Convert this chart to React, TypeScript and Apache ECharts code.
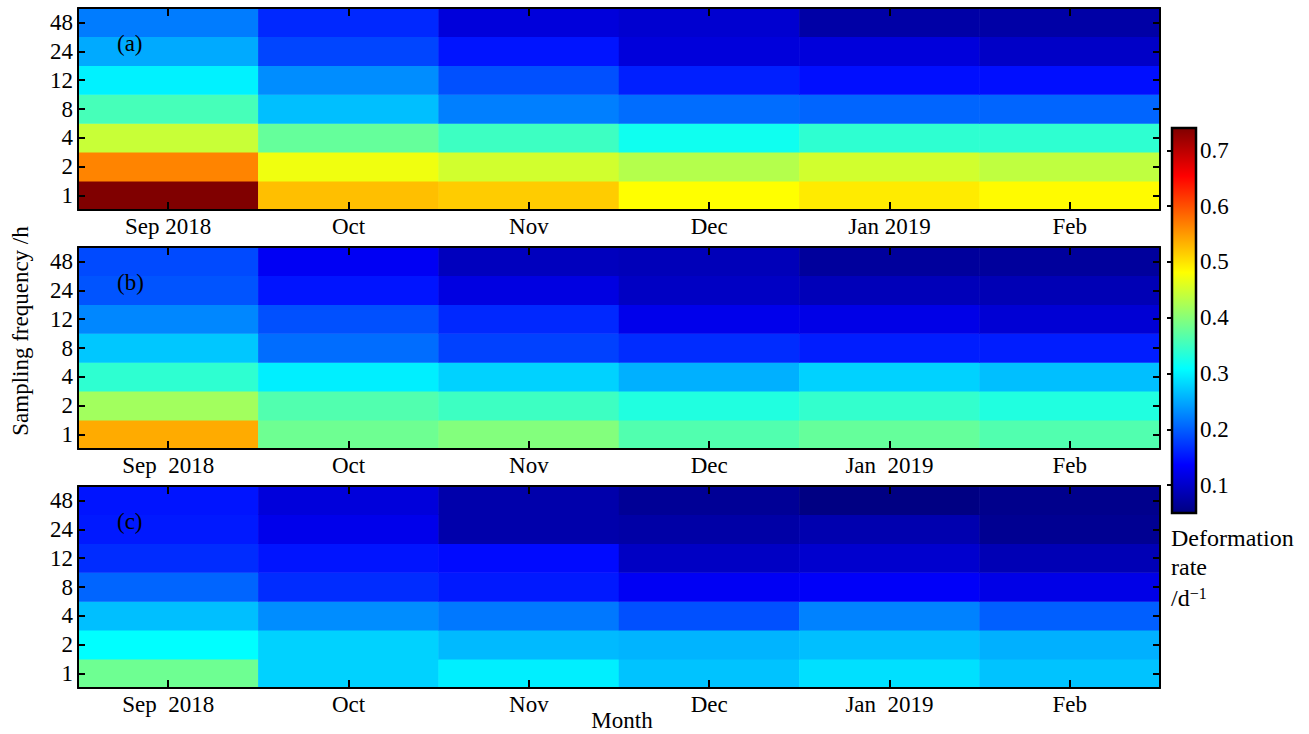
import React, { useEffect, useRef } from "react";
import * as echarts from "echarts";

const monthsA = ["Sep 2018", "Oct", "Nov", "Dec", "Jan 2019", "Feb"];
const monthsBC = ["Sep  2018", "Oct", "Nov", "Dec", "Jan  2019", "Feb"];
const freqs = ["1", "2", "4", "8", "12", "24", "48"];
const colorTicks = [0.1, 0.2, 0.3, 0.4, 0.5, 0.6, 0.7];
const rateMin = 0.05;
const rateMax = 0.74;

// rows: frequency 1,2,4,8,12,24,48 ; columns: Sep..Feb
const panelA = [
  [0.74, 0.525, 0.516, 0.481, 0.495, 0.484],
  [0.565, 0.471, 0.45, 0.43, 0.45, 0.438],
  [0.444, 0.377, 0.35, 0.319, 0.34, 0.34],
  [0.356, 0.265, 0.222, 0.21, 0.204, 0.204],
  [0.3, 0.231, 0.19, 0.157, 0.146, 0.146],
  [0.251, 0.183, 0.15, 0.112, 0.112, 0.098],
  [0.22, 0.163, 0.112, 0.104, 0.076, 0.076],
];
const panelB = [
  [0.538, 0.383, 0.397, 0.363, 0.377, 0.363],
  [0.418, 0.363, 0.35, 0.33, 0.343, 0.33],
  [0.34, 0.298, 0.278, 0.255, 0.278, 0.265],
  [0.271, 0.21, 0.18, 0.166, 0.156, 0.156],
  [0.227, 0.19, 0.163, 0.123, 0.12, 0.107],
  [0.193, 0.15, 0.116, 0.096, 0.089, 0.086],
  [0.186, 0.129, 0.092, 0.089, 0.069, 0.069],
];
const panelC = [
  [0.383, 0.278, 0.298, 0.268, 0.288, 0.268],
  [0.309, 0.278, 0.262, 0.258, 0.265, 0.255],
  [0.265, 0.231, 0.217, 0.19, 0.224, 0.2],
  [0.204, 0.166, 0.153, 0.129, 0.132, 0.12],
  [0.166, 0.15, 0.143, 0.096, 0.103, 0.086],
  [0.153, 0.123, 0.079, 0.076, 0.082, 0.062],
  [0.15, 0.112, 0.079, 0.065, 0.052, 0.058],
];
const panelLabels = ["(a)", "(b)", "(c)"];

const jet = [
  "#000080",
  "#0000ff",
  "#0080ff",
  "#00ffff",
  "#80ff80",
  "#ffff00",
  "#ff8000",
  "#ff0000",
  "#800000",
];

const FONT = "'Liberation Serif', 'Times New Roman', serif";
const FS = 23;

function toCells(rows: number[][]) {
  const out: number[][] = [];
  rows.forEach((row, yi) => row.forEach((v, xi) => out.push([xi, yi, v])));
  return out;
}

export default function App() {
  const ref = useRef<HTMLDivElement>(null);
  useEffect(() => {
    if (!ref.current) return;
    const chart = echarts.init(ref.current, undefined, { renderer: "svg" });
    const panels = [panelA, panelB, panelC];
    const tops = [8, 247, 486];
    const gridH = 202;
    const grids: any[] = tops.map((t) => ({ left: 78, top: t, width: 1082, height: gridH }));
    grids.push({ left: 1172, top: 128, width: 24, height: 385 });

    const lineStyle = { color: "#000", width: 2 };
    const xAxes: any[] = [];
    const yAxes: any[] = [];
    panels.forEach((_, i) => {
      const data = i === 0 ? monthsA : monthsBC;
      xAxes.push({
        gridIndex: i, type: "category", data, position: "bottom", z: 10,
        axisLine: { show: true, lineStyle },
        axisTick: { show: true, inside: true, length: 8, alignWithLabel: true, lineStyle },
        axisLabel: { show: true, color: "#000", fontSize: FS, fontFamily: FONT, margin: 5, interval: 0 },
        splitLine: { show: false },
      });
      xAxes.push({
        gridIndex: i, type: "category", data, position: "top", z: 10,
        axisLine: { show: true, lineStyle },
        axisTick: { show: true, inside: true, length: 8, alignWithLabel: true, lineStyle },
        axisLabel: { show: false },
        splitLine: { show: false },
      });
      yAxes.push({
        gridIndex: i, type: "category", data: freqs, position: "left", z: 10,
        axisLine: { show: true, lineStyle },
        axisTick: { show: true, inside: true, length: 7, alignWithLabel: true, lineStyle },
        axisLabel: { show: true, color: "#000", fontSize: FS, fontFamily: FONT, margin: 5, interval: 0 },
        splitLine: { show: false },
      });
      yAxes.push({
        gridIndex: i, type: "category", data: freqs, position: "right", z: 10,
        axisLine: { show: true, lineStyle },
        axisTick: { show: true, inside: true, length: 7, alignWithLabel: true, lineStyle },
        axisLabel: { show: false },
        splitLine: { show: false },
      });
    });
    // colorbar axes
    xAxes.push({ gridIndex: 3, type: "value", min: 0, max: 1, show: false });
    yAxes.push({
      gridIndex: 3, type: "value", min: rateMin, max: rateMax, position: "right", z: 20,
      axisLine: { show: false },
      axisTick: { show: true, inside: true, length: 5, customValues: colorTicks, lineStyle: { color: "#000", width: 2 } },
      axisLabel: {
        show: true, color: "#000", fontSize: FS, fontFamily: FONT, margin: 4,
        customValues: colorTicks, formatter: (v: number) => v.toFixed(1),
      },
      splitLine: { show: false },
    });

    const series: any[] = panels.map((p, i) => ({
      type: "heatmap",
      xAxisIndex: i * 2,
      yAxisIndex: i * 2,
      data: toCells(p),
      itemStyle: { borderWidth: 0 },
      emphasis: { disabled: true },
    }));

    const textStyle = (extra: any) => ({ fill: "#000", fontSize: FS, fontFamily: FONT, ...extra });
    const graphic: any[] = [
      {
        type: "rect", z: 1,
        shape: { x: 1172, y: 128, width: 24, height: 385 },
        style: {
          fill: new echarts.graphic.LinearGradient(0, 1, 0, 0,
            jet.map((c, k) => ({ offset: k / (jet.length - 1), color: c }))),
          stroke: "#000", lineWidth: 2.5,
        },
      },
      {
        type: "text", x: 20, y: 331, rotation: Math.PI / 2,
        style: textStyle({ text: "Sampling frequency /h", textAlign: "center", textVerticalAlign: "middle" }),
      },
      {
        type: "text", x: 622, y: 720,
        style: textStyle({ text: "Month", textAlign: "center", textVerticalAlign: "middle" }),
      },
      {
        type: "text", x: 1171, y: 538,
        style: textStyle({ text: "Deformation", fontSize: 24, textAlign: "left", textVerticalAlign: "middle" }),
      },
      {
        type: "text", x: 1171, y: 567,
        style: textStyle({ text: "rate", fontSize: 24, textAlign: "left", textVerticalAlign: "middle" }),
      },
      {
        type: "text", x: 1171, y: 598,
        style: textStyle({
          text: "/d{sup|−1}", fontSize: 24, textAlign: "left", textVerticalAlign: "middle",
          rich: { sup: { fontSize: 16, fontFamily: FONT, fill: "#000", verticalAlign: "top", padding: [0, 0, 10, 0] } },
        }),
      },
    ];
    panelLabels.forEach((lab, i) => {
      graphic.push({
        type: "text", x: 117, y: tops[i] + 35, z: 100,
        style: textStyle({ text: lab, textAlign: "left", textVerticalAlign: "middle" }),
      });
    });

    chart.setOption({
      animation: false,
      backgroundColor: "#fff",
      grid: grids,
      xAxis: xAxes,
      yAxis: yAxes,
      visualMap: {
        type: "continuous", show: false, min: rateMin, max: rateMax,
        seriesIndex: [0, 1, 2], dimension: 2,
        inRange: { color: jet },
      },
      series,
      graphic,
    });
    return () => chart.dispose();
  }, []);
  return <div ref={ref} style={{ width: 1309, height: 734, position: "absolute", left: 0, top: 0 }} />;
}
